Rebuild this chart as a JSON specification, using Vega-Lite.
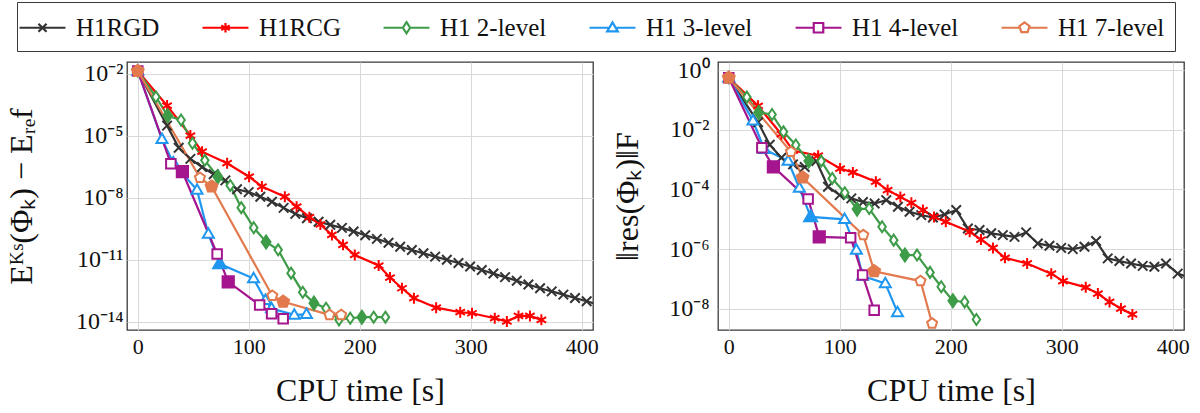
{
  "$schema": "https://vega.github.io/schema/vega-lite/v6.json",
  "background": "white",
  "padding": {"left": 4, "top": 1, "right": 4, "bottom": 2},
  "config": {
    "font": "Liberation Serif",
    "style": {
      "guide-label": {"font": "Liberation Serif", "fill": "#111111"},
      "guide-title": {"font": "Liberation Serif", "fill": "#111111"}
    },
    "view": {"stroke": "#3a3a3a", "strokeWidth": 1.3},
    "axis": {
      "labelFont": "Liberation Serif",
      "labelFontSize": 22,
      "labelColor": "#111111",
      "titleFont": "Liberation Serif",
      "titleFontSize": 32,
      "titleFontWeight": "normal",
      "titleColor": "#111111",
      "grid": true,
      "gridColor": "#d9d9d9",
      "gridWidth": 1,
      "domain": false,
      "ticks": false
    },
    "legend": {
      "labelFont": "Liberation Serif",
      "labelFontSize": 25,
      "labelColor": "#111111",
      "labelLimit": 0,
      "symbolSize": 784,
      "symbolStrokeWidth": 2.2,
      "symbolFillColor": "white",
      "labelOffset": 18,
      "columnPadding": 38,
      "padding": 10,
      "strokeColor": "#3a3a3a",
      "fillColor": "white",
      "cornerRadius": 0
    }
  },
  "datasets": {
    "runs": [
      {"method": "H1RGD", "t": 0, "e": 1.4e-2, "r": 0.55, "key": false},
      {"method": "H1RGD", "t": 26.4, "e": 3.16e-5, "r": 1.78e-2, "key": false},
      {"method": "H1RGD", "t": 36.9, "e": 2.69e-6, "r": 3.16e-3, "key": false},
      {"method": "H1RGD", "t": 47.4, "e": 7.76e-7, "r": 1.15e-3, "key": false},
      {"method": "H1RGD", "t": 57.9, "e": 3.16e-7, "r": 6.92e-4, "key": false},
      {"method": "H1RGD", "t": 68.4, "e": 1.41e-7, "r": 5.62e-4, "key": false},
      {"method": "H1RGD", "t": 78.9, "e": 7.08e-8, "r": 8.91e-4, "key": false},
      {"method": "H1RGD", "t": 89.4, "e": 2.63e-8, "r": 1.23e-4, "key": false},
      {"method": "H1RGD", "t": 99.9, "e": 1.91e-8, "r": 6.46e-5, "key": false},
      {"method": "H1RGD", "t": 110.4, "e": 1.15e-8, "r": 5.01e-5, "key": false},
      {"method": "H1RGD", "t": 120.9, "e": 6.61e-9, "r": 3.80e-5, "key": false},
      {"method": "H1RGD", "t": 131.4, "e": 3.31e-9, "r": 3.39e-5, "key": false},
      {"method": "H1RGD", "t": 141.9, "e": 1.70e-9, "r": 4.37e-5, "key": false},
      {"method": "H1RGD", "t": 152.4, "e": 1.05e-9, "r": 2.63e-5, "key": false},
      {"method": "H1RGD", "t": 162.9, "e": 7.08e-10, "r": 1.78e-5, "key": false},
      {"method": "H1RGD", "t": 173.4, "e": 5.01e-10, "r": 1.38e-5, "key": false},
      {"method": "H1RGD", "t": 183.9, "e": 3.55e-10, "r": 1.15e-5, "key": false},
      {"method": "H1RGD", "t": 194.4, "e": 2.40e-10, "r": 1.45e-5, "key": false},
      {"method": "H1RGD", "t": 204.9, "e": 1.58e-10, "r": 2.04e-5, "key": false},
      {"method": "H1RGD", "t": 215.4, "e": 1.05e-10, "r": 4.90e-6, "key": false},
      {"method": "H1RGD", "t": 225.9, "e": 6.76e-11, "r": 4.37e-6, "key": false},
      {"method": "H1RGD", "t": 236.4, "e": 4.37e-11, "r": 3.39e-6, "key": false},
      {"method": "H1RGD", "t": 246.9, "e": 3.02e-11, "r": 2.95e-6, "key": false},
      {"method": "H1RGD", "t": 257.4, "e": 2.09e-11, "r": 2.57e-6, "key": false},
      {"method": "H1RGD", "t": 267.9, "e": 1.45e-11, "r": 3.63e-6, "key": false},
      {"method": "H1RGD", "t": 278.4, "e": 1.02e-11, "r": 1.55e-6, "key": false},
      {"method": "H1RGD", "t": 288.9, "e": 7.08e-12, "r": 1.29e-6, "key": false},
      {"method": "H1RGD", "t": 299.4, "e": 4.79e-12, "r": 1.10e-6, "key": false},
      {"method": "H1RGD", "t": 309.9, "e": 3.24e-12, "r": 1.00e-6, "key": false},
      {"method": "H1RGD", "t": 320.4, "e": 2.19e-12, "r": 1.20e-6, "key": false},
      {"method": "H1RGD", "t": 330.9, "e": 1.48e-12, "r": 1.86e-6, "key": false},
      {"method": "H1RGD", "t": 341.4, "e": 9.77e-13, "r": 4.90e-7, "key": false},
      {"method": "H1RGD", "t": 351.9, "e": 6.46e-13, "r": 3.98e-7, "key": false},
      {"method": "H1RGD", "t": 362.4, "e": 4.27e-13, "r": 3.31e-7, "key": false},
      {"method": "H1RGD", "t": 372.9, "e": 3.02e-13, "r": 2.75e-7, "key": false},
      {"method": "H1RGD", "t": 383.4, "e": 2.09e-13, "r": 2.57e-7, "key": false},
      {"method": "H1RGD", "t": 393.9, "e": 1.45e-13, "r": 3.31e-7, "key": false},
      {"method": "H1RGD", "t": 404.4, "e": 1.00e-13, "r": 1.51e-7, "key": false},
      {"method": "H1RGD", "t": 414.9, "e": 6.92e-14, "r": 1.12e-7, "key": false},

      {"method": "H1RCG", "t": 0, "e": 1.4e-2, "r": 0.55, "key": false},
      {"method": "H1RCG", "t": 26.4, "e": 2.95e-4, "r": 6.31e-2, "key": false},
      {"method": "H1RCG", "t": 47.4, "e": 1.05e-5, "r": 7.08e-3, "key": false},
      {"method": "H1RCG", "t": 57.9, "e": 1.74e-6, "r": 2.00e-3, "key": false},
      {"method": "H1RCG", "t": 80.5, "e": 4.79e-7, "r": 1.35e-3, "key": false},
      {"method": "H1RCG", "t": 100.3, "e": 1.07e-7, "r": 5.01e-4, "key": false},
      {"method": "H1RCG", "t": 111.8, "e": 3.55e-8, "r": 3.72e-4, "key": false},
      {"method": "H1RCG", "t": 132.5, "e": 1.15e-8, "r": 1.82e-4, "key": false},
      {"method": "H1RCG", "t": 143.1, "e": 3.80e-9, "r": 9.55e-5, "key": false},
      {"method": "H1RCG", "t": 154.6, "e": 1.17e-9, "r": 5.62e-5, "key": false},
      {"method": "H1RCG", "t": 164.5, "e": 5.25e-10, "r": 3.55e-5, "key": false},
      {"method": "H1RCG", "t": 174.9, "e": 1.62e-10, "r": 2.04e-5, "key": false},
      {"method": "H1RCG", "t": 184.9, "e": 5.37e-11, "r": 1.20e-5, "key": false},
      {"method": "H1RCG", "t": 195.5, "e": 1.74e-11, "r": 8.32e-6, "key": false},
      {"method": "H1RCG", "t": 217.0, "e": 5.37e-12, "r": 3.80e-6, "key": false},
      {"method": "H1RCG", "t": 227.2, "e": 1.41e-12, "r": 2.09e-6, "key": false},
      {"method": "H1RCG", "t": 238.0, "e": 4.27e-13, "r": 1.10e-6, "key": false},
      {"method": "H1RCG", "t": 248.8, "e": 1.41e-13, "r": 5.13e-7, "key": false},
      {"method": "H1RCG", "t": 268.8, "e": 4.90e-14, "r": 3.31e-7, "key": false},
      {"method": "H1RCG", "t": 290.5, "e": 2.95e-14, "r": 1.51e-7, "key": false},
      {"method": "H1RCG", "t": 301.1, "e": 2.63e-14, "r": 8.51e-8, "key": false},
      {"method": "H1RCG", "t": 321.6, "e": 1.51e-14, "r": 5.25e-8, "key": false},
      {"method": "H1RCG", "t": 332.5, "e": 1.05e-14, "r": 3.24e-8, "key": false},
      {"method": "H1RCG", "t": 343.0, "e": 1.95e-14, "r": 1.70e-8, "key": false},
      {"method": "H1RCG", "t": 353.3, "e": 1.95e-14, "r": 1.02e-8, "key": false},
      {"method": "H1RCG", "t": 363.6, "e": 1.26e-14, "r": 6.46e-9, "key": false},

      {"method": "H1 2-level", "t": 0, "e": 1.4e-2, "r": 0.55, "key": false},
      {"method": "H1 2-level", "t": 16.3, "e": 7.76e-4, "r": 0.124, "key": false},
      {"method": "H1 2-level", "t": 27.0, "e": 9.55e-5, "r": 3.80e-2, "key": true},
      {"method": "H1 2-level", "t": 39.0, "e": 5.89e-5, "r": 3.24e-2, "key": false},
      {"method": "H1 2-level", "t": 49.3, "e": 4.47e-6, "r": 8.51e-3, "key": false},
      {"method": "H1 2-level", "t": 60.4, "e": 6.61e-7, "r": 3.09e-3, "key": false},
      {"method": "H1 2-level", "t": 72.1, "e": 1.07e-7, "r": 8.91e-4, "key": true},
      {"method": "H1 2-level", "t": 83.3, "e": 3.98e-8, "r": 8.91e-4, "key": false},
      {"method": "H1 2-level", "t": 93.2, "e": 3.39e-9, "r": 2.34e-4, "key": false},
      {"method": "H1 2-level", "t": 104.5, "e": 3.63e-10, "r": 7.76e-5, "key": false},
      {"method": "H1 2-level", "t": 115.6, "e": 7.41e-11, "r": 2.19e-5, "key": true},
      {"method": "H1 2-level", "t": 126.5, "e": 3.09e-11, "r": 2.29e-5, "key": false},
      {"method": "H1 2-level", "t": 138.1, "e": 2.29e-12, "r": 5.62e-6, "key": false},
      {"method": "H1 2-level", "t": 148.6, "e": 2.75e-13, "r": 2.00e-6, "key": false},
      {"method": "H1 2-level", "t": 158.7, "e": 8.13e-14, "r": 6.31e-7, "key": true},
      {"method": "H1 2-level", "t": 169.6, "e": 4.57e-14, "r": 6.31e-7, "key": false},
      {"method": "H1 2-level", "t": 181.3, "e": 1.26e-14, "r": 1.66e-7, "key": false},
      {"method": "H1 2-level", "t": 191.4, "e": 1.51e-14, "r": 5.50e-8, "key": false},
      {"method": "H1 2-level", "t": 201.9, "e": 1.70e-14, "r": 1.86e-8, "key": true},
      {"method": "H1 2-level", "t": 212.5, "e": 1.70e-14, "r": 1.70e-8, "key": false},
      {"method": "H1 2-level", "t": 223.1, "e": 1.70e-14, "r": 4.37e-9, "key": false},

      {"method": "H1 3-level", "t": 0, "e": 1.4e-2, "r": 0.55, "key": false},
      {"method": "H1 3-level", "t": 21.8, "e": 6.92e-6, "r": 2.00e-2, "key": false},
      {"method": "H1 3-level", "t": 32.0, "e": 5.0e-7, "r": 2.24e-3, "key": false},
      {"method": "H1 3-level", "t": 53.4, "e": 2.45e-8, "r": 9.0e-4, "key": false},
      {"method": "H1 3-level", "t": 63.6, "e": 1.82e-10, "r": 1.12e-4, "key": false},
      {"method": "H1 3-level", "t": 73.8, "e": 6.46e-12, "r": 1.20e-5, "key": true},
      {"method": "H1 3-level", "t": 104.3, "e": 1.26e-12, "r": 1.00e-5, "key": false},
      {"method": "H1 3-level", "t": 115.0, "e": 1.12e-13, "r": 9.33e-7, "key": false},
      {"method": "H1 3-level", "t": 120.5, "e": 4.47e-14, "r": 1.26e-7, "key": false},
      {"method": "H1 3-level", "t": 141.0, "e": 2.19e-14, "r": 7.08e-8, "key": false},
      {"method": "H1 3-level", "t": 152.0, "e": 2.34e-14, "r": 7.59e-9, "key": false},

      {"method": "H1 4-level", "t": 0, "e": 1.4e-2, "r": 0.55, "key": false},
      {"method": "H1 4-level", "t": 29.8, "e": 4.57e-7, "r": 2.51e-3, "key": false},
      {"method": "H1 4-level", "t": 40.2, "e": 1.86e-7, "r": 5.75e-4, "key": true},
      {"method": "H1 4-level", "t": 71.5, "e": 1.95e-11, "r": 4.79e-5, "key": false},
      {"method": "H1 4-level", "t": 81.5, "e": 8.71e-13, "r": 2.57e-6, "key": true},
      {"method": "H1 4-level", "t": 109.8, "e": 6.61e-14, "r": 2.40e-6, "key": false},
      {"method": "H1 4-level", "t": 120.6, "e": 2.51e-14, "r": 1.35e-7, "key": false},
      {"method": "H1 4-level", "t": 131.0, "e": 1.41e-14, "r": 8.91e-9, "key": false},

      {"method": "H1 7-level", "t": 0, "e": 1.4e-2, "r": 0.55, "key": true},
      {"method": "H1 7-level", "t": 56.0, "e": 9.55e-8, "r": 1.82e-3, "key": false},
      {"method": "H1 7-level", "t": 66.5, "e": 3.55e-8, "r": 2.51e-4, "key": true},
      {"method": "H1 7-level", "t": 121.2, "e": 1.86e-13, "r": 2.95e-6, "key": false},
      {"method": "H1 7-level", "t": 131.0, "e": 9.55e-14, "r": 1.82e-7, "key": true},
      {"method": "H1 7-level", "t": 172.7, "e": 2.19e-14, "r": 8.51e-8, "key": false},
      {"method": "H1 7-level", "t": 183.2, "e": 2.19e-14, "r": 3.24e-9, "key": false}
    ]
  },
  "vconcat": [
    {
      "width": 20,
      "height": 44,
      "view": {"stroke": null},
      "data": {"name": "runs"},
      "mark": {"type": "point", "filled": false, "opacity": 0, "strokeWidth": 2.2},
      "encoding": {
        "color": {
          "field": "method", "type": "nominal",
          "scale": {
            "domain": ["H1RGD", "H1RCG", "H1 2-level", "H1 3-level", "H1 4-level", "H1 7-level"],
            "range": ["#333333", "#ff0000", "#3e9c48", "#1f96f0", "#a4158e", "#e27a4e"]
          },
          "legend": {"orient": "none", "legendX": -110, "legendY": 0, "direction": "horizontal", "columns": 6, "title": null, "labelFont": "Liberation Serif"}
        },
        "shape": {
          "field": "method", "type": "nominal",
          "scale": {
            "domain": ["H1RGD", "H1RCG", "H1 2-level", "H1 3-level", "H1 4-level", "H1 7-level"],
            "range": [
              "M-1.64,0H1.64M-0.29,-0.29L0.29,0.29M-0.29,0.29L0.29,-0.29",
              "M-1.64,0H1.64M0,-0.34V0.34M-0.3,-0.17L0.3,0.17M-0.3,0.17L0.3,-0.17",
              "M-1.64,0H-0.26M0.26,0H1.64M0,-0.4L0.26,0L0,0.4L-0.26,0Z",
              "M-1.64,0H-0.22M0.22,0H1.64M0,-0.38L0.38,0.26L-0.38,0.26Z",
              "M-1.64,0H-0.34M0.34,0H1.64M-0.34,-0.34H0.34V0.34H-0.34Z",
              "M-1.64,0H-0.32M0.32,0H1.64M0,-0.38L0.36,-0.117L0.223,0.307L-0.223,0.307L-0.36,-0.117Z"
            ]
          },
          "legend": {"orient": "none", "legendX": -110, "legendY": 0, "direction": "horizontal", "columns": 6, "title": null, "labelFont": "Liberation Serif"}
        }
      }
    },
    {
      "spacing": 11,
      "hconcat": [
        {
          "width": 466,
          "height": 268,
          "data": {"name": "runs"},
          "encoding": {
            "x": {
              "field": "t", "type": "quantitative", "title": "CPU time [s]",
              "scale": {"domain": [-9.7, 410.1], "nice": false, "zero": false},
              "axis": {"values": [0, 100, 200, 300, 400], "labelFont": "Liberation Serif", "labelFontSize": 22, "labelPadding": 6, "titlePadding": 18}
            },
            "y": {
              "field": "e", "type": "quantitative", "title": "Eᴷˢ(Φₖ) − Eᵣₑf",
              "scale": {"type": "log", "domain": [4.07e-15, 3.8e-2], "nice": false},
              "axis": {
                "values": [1e-2, 1e-5, 1e-8, 1e-11, 1e-14],
                "labelExpr": "round(log(datum.value)/LN10) == -2 ? '10⁻²' : round(log(datum.value)/LN10) == -5 ? '10⁻⁵' : round(log(datum.value)/LN10) == -8 ? '10⁻⁸' : round(log(datum.value)/LN10) == -11 ? '10⁻¹¹' : '10⁻¹⁴'",
                "labelFont": "Liberation Serif", "labelFontSize": 24,
                "labelPadding": 4, "titleX": -89
              }
            }
          },
          "layer": [
            {
              "mark": {"type": "line", "strokeWidth": 2.2, "clip": true},
              "encoding": {
                "stroke": {
                  "field": "method", "type": "nominal", "legend": null,
                  "scale": {
                    "domain": ["H1RGD", "H1RCG", "H1 2-level", "H1 3-level", "H1 4-level", "H1 7-level"],
                    "range": ["#333333", "#ff0000", "#3e9c48", "#1f96f0", "#a4158e", "#e27a4e"]
                  }
                }
              }
            },
            {
              "mark": {"type": "point", "filled": false, "strokeWidth": 2, "opacity": 1, "clip": true},
              "encoding": {
                "size": {"condition": {"test": "datum.key", "value": 140}, "value": 100},
                "stroke": {
                  "field": "method", "type": "nominal", "legend": null,
                  "scale": {
                    "domain": ["H1RGD", "H1RCG", "H1 2-level", "H1 3-level", "H1 4-level", "H1 7-level"],
                    "range": ["#333333", "#ff0000", "#3e9c48", "#1f96f0", "#a4158e", "#e27a4e"]
                  }
                },
                "fill": {
                  "condition": {
                    "test": "datum.key",
                    "field": "method", "type": "nominal", "legend": null,
                    "scale": {
                      "domain": ["H1RGD", "H1RCG", "H1 2-level", "H1 3-level", "H1 4-level", "H1 7-level"],
                      "range": ["#333333", "#ff0000", "#3e9c48", "#1f96f0", "#a4158e", "#e27a4e"]
                    }
                  },
                  "value": "white"
                },
                "shape": {
                  "field": "method", "type": "nominal", "legend": null,
                  "scale": {
                    "domain": ["H1RGD", "H1RCG", "H1 2-level", "H1 3-level", "H1 4-level", "H1 7-level"],
                    "range": [
                      "M-0.95,-0.95L0.95,0.95M-0.95,0.95L0.95,-0.95",
                      "M0,-1.1V1.1M-0.95,-0.55L0.95,0.55M-0.95,0.55L0.95,-0.55",
                      "M0,-1.1L0.75,0L0,1.1L-0.75,0Z",
                      "M0,-1.15L1.1,0.75L-1.1,0.75Z",
                      "M-0.95,-0.95H0.95V0.95H-0.95Z",
                      "M0,-1.05L1,-0.32L0.62,0.85L-0.62,0.85L-1,-0.32Z"
                    ]
                  }
                }
              }
            }
          ]
        },
        {
          "width": 466,
          "height": 268,
          "data": {"name": "runs"},
          "encoding": {
            "x": {
              "field": "t", "type": "quantitative", "title": "CPU time [s]",
              "scale": {"domain": [-9.7, 410.1], "nice": false, "zero": false},
              "axis": {"values": [0, 100, 200, 300, 400], "labelFont": "Liberation Serif", "labelFontSize": 22, "labelPadding": 6, "titlePadding": 18}
            },
            "y": {
              "field": "r", "type": "quantitative", "title": "‖res(Φₖ)‖F",
              "scale": {"type": "log", "domain": [1.95e-9, 1.862], "nice": false},
              "axis": {
                "values": [1, 1e-2, 1e-4, 1e-6, 1e-8],
                "labelExpr": "round(log(datum.value)/LN10) == 0 ? '10⁰' : round(log(datum.value)/LN10) == -2 ? '10⁻²' : round(log(datum.value)/LN10) == -4 ? '10⁻⁴' : round(log(datum.value)/LN10) == -6 ? '10⁻⁶' : '10⁻⁸'",
                "labelFont": "Liberation Serif", "labelFontSize": 24,
                "labelPadding": 9, "titleX": -74
              }
            }
          },
          "layer": [
            {
              "mark": {"type": "line", "strokeWidth": 2.2, "clip": true},
              "encoding": {
                "stroke": {
                  "field": "method", "type": "nominal", "legend": null,
                  "scale": {
                    "domain": ["H1RGD", "H1RCG", "H1 2-level", "H1 3-level", "H1 4-level", "H1 7-level"],
                    "range": ["#333333", "#ff0000", "#3e9c48", "#1f96f0", "#a4158e", "#e27a4e"]
                  }
                }
              }
            },
            {
              "mark": {"type": "point", "filled": false, "strokeWidth": 2, "opacity": 1, "clip": true},
              "encoding": {
                "size": {"condition": {"test": "datum.key", "value": 140}, "value": 100},
                "stroke": {
                  "field": "method", "type": "nominal", "legend": null,
                  "scale": {
                    "domain": ["H1RGD", "H1RCG", "H1 2-level", "H1 3-level", "H1 4-level", "H1 7-level"],
                    "range": ["#333333", "#ff0000", "#3e9c48", "#1f96f0", "#a4158e", "#e27a4e"]
                  }
                },
                "fill": {
                  "condition": {
                    "test": "datum.key",
                    "field": "method", "type": "nominal", "legend": null,
                    "scale": {
                      "domain": ["H1RGD", "H1RCG", "H1 2-level", "H1 3-level", "H1 4-level", "H1 7-level"],
                      "range": ["#333333", "#ff0000", "#3e9c48", "#1f96f0", "#a4158e", "#e27a4e"]
                    }
                  },
                  "value": "white"
                },
                "shape": {
                  "field": "method", "type": "nominal", "legend": null,
                  "scale": {
                    "domain": ["H1RGD", "H1RCG", "H1 2-level", "H1 3-level", "H1 4-level", "H1 7-level"],
                    "range": [
                      "M-0.95,-0.95L0.95,0.95M-0.95,0.95L0.95,-0.95",
                      "M0,-1.1V1.1M-0.95,-0.55L0.95,0.55M-0.95,0.55L0.95,-0.55",
                      "M0,-1.1L0.75,0L0,1.1L-0.75,0Z",
                      "M0,-1.15L1.1,0.75L-1.1,0.75Z",
                      "M-0.95,-0.95H0.95V0.95H-0.95Z",
                      "M0,-1.05L1,-0.32L0.62,0.85L-0.62,0.85L-1,-0.32Z"
                    ]
                  }
                }
              }
            }
          ]
        }
      ]
    }
  ],
  "spacing": 5,
  "resolve": {
    "scale": {"color": "independent", "shape": "independent"},
    "legend": {"color": "independent", "shape": "independent"}
  }
}
